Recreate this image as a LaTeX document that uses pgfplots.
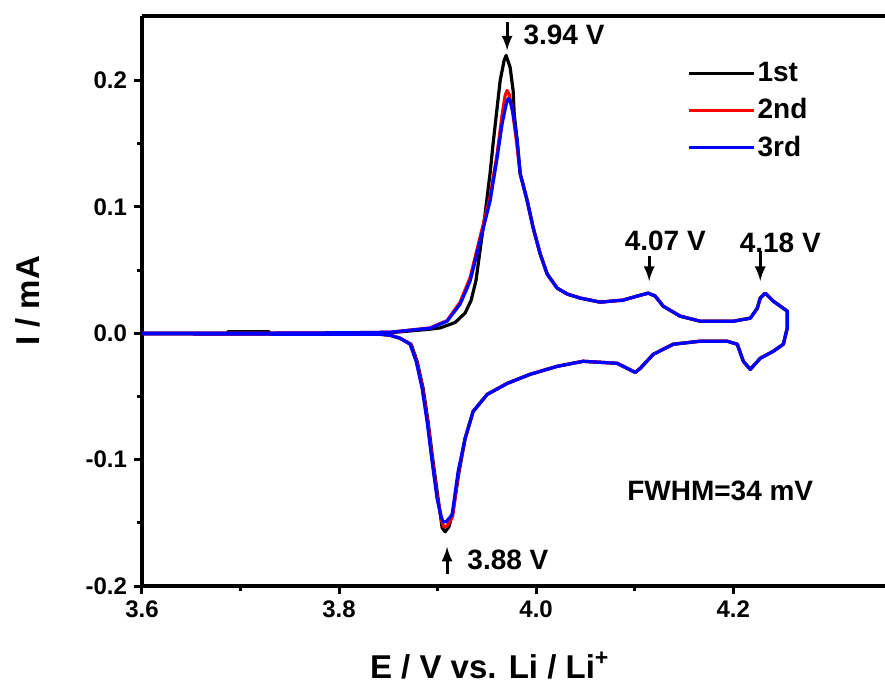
\documentclass[border=0pt]{standalone}
\usepackage{fontspec}
\setmainfont{Liberation Sans}
\usepackage{pgfplots}
\pgfplotsset{compat=1.18}
\usetikzlibrary{calc}

\pgfplotstableread{
x y
3.6000 0.0000
3.7096 0.0000
3.8112 0.0004
3.8518 0.0008
3.8619 0.0016
3.8924 0.0040
3.9096 0.0095
3.9228 0.0230
3.9330 0.0413
3.9431 0.0730
3.9533 0.1048
3.9604 0.1389
3.9655 0.1659
3.9695 0.1810
3.9716 0.1857
3.9736 0.1841
3.9766 0.1738
3.9807 0.1524
3.9838 0.1262
3.9909 0.1048
3.9970 0.0833
4.0041 0.0627
4.0112 0.0468
4.0213 0.0357
4.0315 0.0310
4.0447 0.0278
4.0650 0.0246
4.0883 0.0262
4.1025 0.0294
4.1137 0.0317
4.1208 0.0294
4.1289 0.0214
4.1462 0.0135
4.1665 0.0095
4.2000 0.0095
4.2173 0.0119
4.2244 0.0198
4.2274 0.0278
4.2325 0.0317
4.2406 0.0254
4.2548 0.0175
4.2548 0.0040
4.2508 -0.0087
4.2406 -0.0143
4.2274 -0.0198
4.2173 -0.0286
4.2102 -0.0222
4.2041 -0.0087
4.1939 -0.0063
4.1665 -0.0063
4.1391 -0.0087
4.1188 -0.0167
4.1056 -0.0278
4.1005 -0.0310
4.0822 -0.0238
4.0477 -0.0222
4.0213 -0.0262
3.9939 -0.0325
3.9706 -0.0397
3.9503 -0.0484
3.9360 -0.0619
3.9279 -0.0833
3.9208 -0.1095
3.9147 -0.1437
3.9086 -0.1492
3.9056 -0.1492
3.9036 -0.1452
3.8995 -0.1310
3.8944 -0.1016
3.8893 -0.0698
3.8843 -0.0437
3.8782 -0.0222
3.8721 -0.0087
3.8619 -0.0040
3.8518 -0.0016
3.8416 -0.0008
3.7604 -0.0008
3.6000 -0.0004
}\thirdcycle

\pgfplotstableread{
x y
3.6000 0.0000
3.7096 0.0000
3.8112 0.0004
3.8518 0.0008
3.8619 0.0016
3.8924 0.0042
3.9096 0.0100
3.9228 0.0245
3.9330 0.0440
3.9431 0.0760
3.9533 0.1080
3.9604 0.1420
3.9655 0.1730
3.9685 0.1880
3.9705 0.1921
3.9726 0.1890
3.9756 0.1780
3.9797 0.1540
3.9838 0.1262
3.9909 0.1048
3.9970 0.0833
4.0041 0.0627
4.0112 0.0468
4.0213 0.0357
4.0315 0.0310
4.0447 0.0278
4.0650 0.0246
4.0883 0.0262
4.1025 0.0294
4.1137 0.0317
4.1208 0.0294
4.1289 0.0214
4.1462 0.0135
4.1665 0.0095
4.2000 0.0095
4.2173 0.0119
4.2244 0.0198
4.2274 0.0278
4.2325 0.0317
4.2406 0.0254
4.2548 0.0175
4.2548 0.0040
4.2508 -0.0087
4.2406 -0.0143
4.2274 -0.0198
4.2173 -0.0286
4.2102 -0.0222
4.2041 -0.0087
4.1939 -0.0063
4.1665 -0.0063
4.1391 -0.0087
4.1188 -0.0167
4.1056 -0.0278
4.1005 -0.0310
4.0822 -0.0238
4.0477 -0.0222
4.0213 -0.0262
3.9939 -0.0325
3.9706 -0.0397
3.9503 -0.0484
3.9360 -0.0619
3.9279 -0.0833
3.9213 -0.1095
3.9152 -0.1450
3.9091 -0.1530
3.9061 -0.1530
3.9041 -0.1480
3.9000 -0.1310
3.8949 -0.1016
3.8898 -0.0698
3.8848 -0.0437
3.8787 -0.0222
3.8726 -0.0087
3.8619 -0.0040
3.8518 -0.0016
3.8416 -0.0008
3.7604 -0.0008
3.6000 -0.0004
}\secondcycle

\pgfplotstableread{
x y
3.6000 0.0000
3.6863 0.0000
3.6873 0.0012
3.7289 0.0012
3.7299 0.0000
3.8112 0.0000
3.8518 0.0004
3.8924 0.0032
3.9025 0.0042
3.9178 0.0085
3.9279 0.0160
3.9340 0.0260
3.9390 0.0420
3.9431 0.0660
3.9482 0.0944
3.9533 0.1270
3.9563 0.1500
3.9604 0.1786
3.9635 0.2000
3.9675 0.2159
3.9695 0.2198
3.9736 0.2103
3.9766 0.1921
3.9777 0.1738
3.9807 0.1524
3.9838 0.1262
3.9909 0.1048
3.9970 0.0833
4.0041 0.0627
4.0112 0.0468
4.0213 0.0357
4.0315 0.0310
4.0447 0.0278
4.0650 0.0246
4.0883 0.0262
4.1025 0.0294
4.1137 0.0317
4.1208 0.0294
4.1289 0.0214
4.1462 0.0135
4.1665 0.0095
4.2000 0.0095
4.2173 0.0119
4.2244 0.0198
4.2274 0.0278
4.2325 0.0317
4.2406 0.0254
4.2548 0.0175
4.2548 0.0040
4.2508 -0.0087
4.2406 -0.0143
4.2274 -0.0198
4.2173 -0.0286
4.2102 -0.0222
4.2041 -0.0087
4.1939 -0.0063
4.1665 -0.0063
4.1391 -0.0087
4.1188 -0.0167
4.1056 -0.0278
4.1005 -0.0310
4.0822 -0.0238
4.0477 -0.0222
4.0213 -0.0262
3.9939 -0.0325
3.9706 -0.0397
3.9503 -0.0484
3.9360 -0.0619
3.9279 -0.0833
3.9218 -0.1095
3.9157 -0.1400
3.9116 -0.1530
3.9076 -0.1571
3.9046 -0.1540
3.9005 -0.1310
3.8954 -0.1016
3.8903 -0.0698
3.8853 -0.0437
3.8792 -0.0222
3.8731 -0.0087
3.8619 -0.0040
3.8518 -0.0016
3.8416 -0.0008
3.7604 -0.0008
3.6000 -0.0004
}\firstcycle

\begin{document}
\begin{tikzpicture}
\begin{axis}[
  scale only axis,
  width=371.5pt, height=285pt,
  xmin=3.6, xmax=4.354,
  ymin=-0.2, ymax=0.251,
  axis y line*=left,
  tick pos=left,
  tick align=outside,
  xtick={3.6,3.8,4.0,4.2},
  ytick={-0.2,-0.1,0,0.1,0.2},
  minor x tick num=1, minor y tick num=1,
  major tick length=4pt, minor tick length=2.5pt,
  every tick/.style={black, line width=1.5pt},
  axis line style={line width=2pt},
  /pgf/number format/assume math mode=true,
  xticklabel style={/pgf/number format/fixed, /pgf/number format/fixed zerofill, /pgf/number format/precision=1},
  yticklabel style={/pgf/number format/fixed, /pgf/number format/fixed zerofill, /pgf/number format/precision=1},
  ticklabel style={font=\bfseries\fontsize{12}{14}\selectfont},
  xlabel={E / V vs. Li / Li\textsuperscript{+}},
  ylabel={I / mA},
  label style={font=\bfseries\fontsize{16.5}{18}\selectfont},
  x label style={at={(axis description cs:0.468,-0.115)}, anchor=north, inner sep=0pt},
  y label style={at={(axis description cs:-0.137,0.5)}, anchor=south, inner sep=0pt},
  legend style={at={(0.7335,0.923)}, anchor=north west, draw=none, fill=none,
    inner sep=0pt, row sep=5pt, font=\bfseries\fontsize{14}{16}\selectfont,
    nodes={inner sep=1pt}},
  legend cell align=left,
  legend image code/.code={\draw[#1] (0pt,0pt) -- (32.5pt,0pt);},
  every axis plot/.append style={line width=1.6pt, line join=round, mark=none},
]
\addplot[black] table {\firstcycle};
\addlegendentry{1st}
\addplot[red] table {\secondcycle};
\addlegendentry{2nd}
\addplot[blue] table {\thirdcycle};
\addlegendentry{3rd}

\draw[line width=1.5pt, -latex] (axis cs:3.9705,0.246) -- (axis cs:3.9705,0.2238);
\node[anchor=west, inner sep=0pt, font=\bfseries\fontsize{14}{16}\selectfont] at (axis cs:3.9868,0.2357) {3.94 V};
\draw[line width=1.5pt, -latex] (axis cs:4.1147,0.0611) -- (axis cs:4.1147,0.0413);
\node[inner sep=0pt, font=\bfseries\fontsize{14}{16}\selectfont] at (axis cs:4.131,0.073) {4.07 V};
\draw[line width=1.5pt, -latex] (axis cs:4.2274,0.0651) -- (axis cs:4.2274,0.0413);
\node[inner sep=0pt, font=\bfseries\fontsize{14}{16}\selectfont] at (axis cs:4.2477,0.0714) {4.18 V};
\draw[line width=1.5pt, -latex] (axis cs:3.9096,-0.1905) -- (axis cs:3.9096,-0.1690);
\node[anchor=west, inner sep=0pt, font=\bfseries\fontsize{14}{16}\selectfont] at (axis cs:3.9299,-0.1794) {3.88 V};
\node[inner sep=0pt, font=\bfseries\fontsize{14}{16}\selectfont] at (axis cs:4.1868,-0.1246) {FWHM=34 mV};

\coordinate (ll) at (rel axis cs:0,0);
\coordinate (ur) at (rel axis cs:1,1);
\end{axis}
\pgfresetboundingbox
\path ($(ll)+(-71pt,-50.5pt)$) rectangle ($(ur)+(0pt,8pt)$);
\end{tikzpicture}
\end{document}
